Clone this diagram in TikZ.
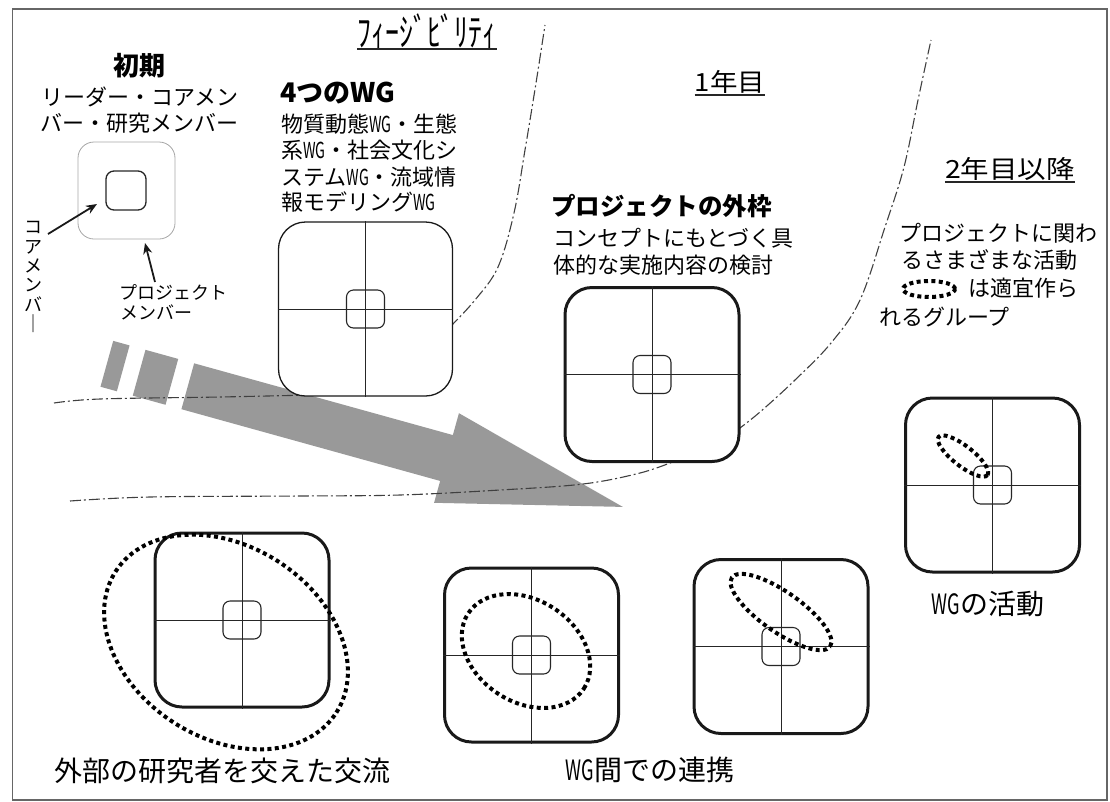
\documentclass[tikz,border=0pt]{standalone}
\usepackage{fontspec}
\usepackage{graphicx}
\newfontfamily\jp{Noto Sans CJK JP}
\usetikzlibrary{arrows.meta}
\newcommand\wgtxt{\scalebox{0.65}[1]{WG}}
\tikzset{
 frameline/.style={draw=black!60, line width=1.5pt},
 arrowfill/.style={fill=black!40},
 phaseline/.style={draw=black!75, line width=1.1pt, dash pattern=on 11pt off 3pt on 2pt off 3pt},
 boxbase/.style={rectangle, minimum width=174pt, minimum height=174pt, rounded corners=27pt, fill=white, draw=black!90, inner sep=0pt},
 bigbox/.style={boxbase, line width=3pt},
 thinbox/.style={boxbase, line width=1.3pt},
 corebox/.style={rectangle, minimum width=38pt, minimum height=38pt, rounded corners=7pt, draw=black!85, line width=1.1pt, inner sep=0pt},
 crossline/.style={draw=black!85, line width=1pt},
 dotring/.style={draw=black, line width=4pt, dash pattern=on 4pt off 3.4pt},
 ptr/.style={draw=black!90, line width=1.8pt, -{Stealth[length=11pt, width=9pt]}},
 body/.style={inner sep=0pt, font=\jp\fontsize{22pt}{22pt}\selectfont},
 note/.style={inner sep=0pt, font=\jp\fontsize{18pt}{18pt}\selectfont},
 caption/.style={inner sep=0pt, font=\jp\fontsize{28pt}{28pt}\selectfont},
 headb/.style={inner sep=0pt, font=\jp\bfseries\fontsize{#1pt}{#1pt}\selectfont},
 phase/.style={inner sep=0pt, font=\jp\fontsize{#1pt}{#1pt}\selectfont},
 uline/.style={draw=black!85, line width=2pt},
}
\begin{document}
\begin{tikzpicture}[x=1pt,y=-1pt]
\useasboundingbox (0,0) rectangle (1110,801);
\draw[frameline] (12.5,9) rectangle (1107,800);

% big gray arrow
\begin{scope}[shift={(446.5,458)}, rotate=-15.5]
 \fill[arrowfill] (-268.5,-23.8) -- (0,-23.8) -- (0,-46.5) -- (183,0) -- (0,46.5) -- (0,23.8) -- (-268.5,23.8) -- cycle;
 \fill[arrowfill] (-352.5,-23.8) rectangle (-335.5,23.8);
 \fill[arrowfill] (-319,-23.8) rectangle (-285,23.8);
\end{scope}

% phase boundaries
\draw[phaseline] plot[smooth, tension=0.6] coordinates {(450,327) (475,300) (498,267) (514,213) (525,150) (536,83) (545,25)};
\draw[phaseline] plot[smooth, tension=0.6] coordinates {(736,431) (760,412) (795,380) (831,343) (860,300) (885,227) (904,167) (918,100) (931,40)};
\draw[phaseline] plot[smooth, tension=0.6] coordinates {(54,403) (100,399) (220,397) (310,395)};
\draw[phaseline] plot[smooth, tension=0.6] coordinates {(70,501) (150,497) (300,496) (400,495) (500,490) (583,484) (640,473) (675,461)};

% initial box
\node[rectangle, minimum width=97pt, minimum height=97pt, rounded corners=16pt, draw=black!35, line width=0.8pt] (init) at (126.5,190.5) {};
\node[corebox, minimum width=40pt, minimum height=39pt, line width=1.3pt, rounded corners=8pt] (initcore) at (126,190.5) {};

% project boxes
\node[thinbox] (wgbox) at (365.5,309) {};
\node[bigbox] (outer) at (652,374.5) {};
\node[bigbox] (ext) at (242,620) {};
\node[bigbox] (linkA) at (531.5,655) {};
\node[bigbox] (linkB) at (781,646.5) {};
\node[bigbox] (act) at (992.5,485) {};
\foreach \b in {wgbox,outer,ext,linkA,linkB,act} {
  \draw[crossline] (\b.north) -- (\b.south) (\b.west) -- (\b.east);
  \node[corebox] (\b-core) at (\b.center) {};
}

% groups (dotted)
\draw[dotring, rotate around={-32.6:(226,642)}] (226,642) ellipse [x radius=131pt, y radius=96pt];
\draw[dotring, rotate around={-33:(526,651)}] (526,651) ellipse [x radius=69pt, y radius=51pt];
\draw[dotring, rotate around={-35:(781,612)}] (781,612) ellipse [x radius=60pt, y radius=20pt];
\draw[dotring, rotate around={-38:(963,456)}] (963,456) ellipse [x radius=31pt, y radius=10pt];
\draw[dotring] (929,289) ellipse [x radius=26pt, y radius=8pt];

% arrows to initial box
\coordinate (a1s) at (48,234);
\coordinate (a1e) at (97,204);
\coordinate (a2s) at (155,282);
\coordinate (a2e) at (145,243);
\draw[ptr] (a1s) -- (a1e);
\draw[ptr] (a2s) -- (a2e);

% phase headings
\node[phase=32, anchor=base] (fz) at (427,46.5) {\scalebox{0.87}[1.2]{ﾌｨｰｼﾞﾋﾞﾘﾃｨ}};
\draw[uline] ([yshift=-2.5pt]fz.base west) -- ([yshift=-2.5pt]fz.base east);
\node[phase=25, anchor=base] (y1) at (730,91.5) {\scalebox{1.1}[1]{1年目}};
\draw[uline] ([yshift=-3pt]y1.base west) -- ([yshift=-3pt]y1.base east);
\node[phase=25, anchor=base] (y2) at (1010,178.5) {\scalebox{1.14}[1]{2年目以降}};
\draw[uline] ([yshift=-3.5pt]y2.base west) -- ([yshift=-3.5pt]y2.base east);

% initial
\node[headb=26, anchor=base] (shoki) at (139,75) {初期};
\node[body, anchor=base] (sk1) at (140,105.4) {リーダー・コアメン};
\node[body, anchor=base] (sk2) at (139,131.4) {バー・研究メンバー};
\foreach \c [count=\i] in {コ,ア,メ,ン,バ,｜} {
  \node[note, anchor=base] (cm\i) at (33,{227+19.3*(\i-1)+6.8}) {\c};
}
\node[note, anchor=base west] (pm1) at (119,299.8) {プロジェクト};
\node[note, anchor=base west] (pm2) at (120,319.8) {メンバー};

% four WGs
\node[headb=27, anchor=base west] (wgh) at (280,102) {4つのWG};
\node[body, anchor=base west] (wg1) at (281,132) {物質動態\wgtxt・生態};
\node[body, anchor=base west] (wg2) at (281,158.4) {系\wgtxt・社会文化シ};
\node[body, anchor=base west] (wg3) at (281,185.2) {ステム\wgtxt・流域情};
\node[body, anchor=base west] (wg4) at (281,210.2) {報モデリング\wgtxt};

% project frame
\node[headb=24.5, anchor=base west] (pfh) at (551,215.5) {プロジェクトの外枠};
\node[body, anchor=base west] (pf1) at (553,246.8) {コンセプトにもとづく具};
\node[body, anchor=base west] (pf2) at (553,273.6) {体的な実施内容の検討};

% legend
\node[body, anchor=base west] (lg1) at (899,241.4) {プロジェクトに関わ};
\node[body, anchor=base west] (lg2) at (901,268.4) {るさまざまな活動};
\node[body, anchor=base west] (lg3) at (968,296.4) {は適宜作ら};
\node[body, anchor=base west] (lg4) at (879,325.4) {れるグループ};

% captions
\node[caption, anchor=base west] (capext) at (54,781.6) {外部の研究者を交えた交流};
\node[caption, anchor=base] (caplink) at (650,780.6) {\wgtxt 間での連携};
\node[caption, anchor=base] (capact) at (988,614.6) {\wgtxt の活動};
\end{tikzpicture}
\end{document}
